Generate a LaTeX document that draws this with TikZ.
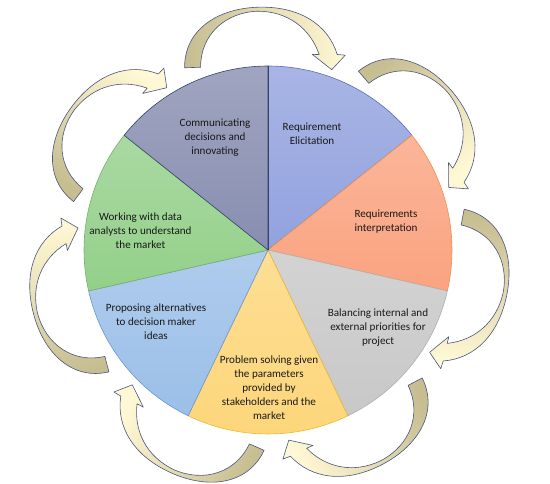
\documentclass[tikz,border=0pt]{standalone}
\usepackage{fontspec}
\setmainfont{Carlito}
\definecolor{cBlue}{RGB}{146,162,222}
\definecolor{cOrange}{RGB}{250,163,128}
\definecolor{cGray}{RGB}{200,200,200}
\definecolor{cYellow}{RGB}{253,214,122}
\definecolor{cLBlue}{RGB}{155,191,232}
\definecolor{cGreen}{RGB}{148,208,138}
\definecolor{cSlate}{RGB}{136,142,176}
\definecolor{bBlue}{RGB}{90,110,185}
\definecolor{bOrange}{RGB}{240,145,70}
\definecolor{bGray}{RGB}{175,175,175}
\definecolor{bYellow}{RGB}{235,185,45}
\definecolor{bLBlue}{RGB}{105,150,210}
\definecolor{bGreen}{RGB}{115,178,105}
\definecolor{bSlate}{RGB}{55,65,110}
\definecolor{arTan}{RGB}{198,189,145}
\definecolor{arCream}{RGB}{255,248,212}
\definecolor{arLine}{RGB}{75,85,125}
\definecolor{txt}{RGB}{25,25,25}
\tikzset{
  lbl/.style={align=center, text=txt, font=\fontsize{11.1}{14}\selectfont, inner sep=0pt},
  slicestyle/.style={line width=0.6pt, line join=round},
  arrowstyle/.style={draw=arLine, line width=0.6pt, line join=round}
}
\begin{document}
\begin{tikzpicture}[x=1pt,y=1pt]
\useasboundingbox (0,0) rectangle (550,483);
\coordinate (C) at (268,233);
% pie slices
\foreach \s/\c/\b in {0/cBlue/bBlue,1/cOrange/bOrange,2/cGray/bGray,3/cYellow/bYellow,4/cLBlue/bLBlue,5/cGreen/bGreen,6/cSlate/bSlate}{
  \pgfmathsetmacro\aa{90-51.428571*\s}
  \pgfmathsetmacro\ee{\aa-51.428571}
  \shadedraw[slicestyle, top color=\c!80!white, bottom color=\c, draw=\b]
    (C) -- ++(\aa:184) arc[start angle=\aa, end angle=\ee, radius=184] -- cycle;
}
\draw[bSlate, line width=0.7pt] (C) -- ++(90:184);
% curved arrows
\foreach \k in {0,...,6}{
  \pgfmathsetmacro\ph{92-51.428571*\k}
  \pgfmathsetmacro\rr{\ph-90}
  \begin{scope}[shift={(C)}, rotate=\rr, shift={(0,182)}]
    \shadedraw[arrowstyle, left color=arTan, middle color=arCream!70!arTan, right color=arCream, shading angle=\ph]
      (-77,3) .. controls (-76,41) and (-42,61) .. (-2,61)
      .. controls (40,61) and (68,41) .. (76,11)
      -- (84,10) -- (70,-4) -- (51,12) -- (58,11.5)
      .. controls (50,38) and (28,56) .. (-2,57)
      .. controls (-35,57) and (-60,35) .. (-61,3) -- cycle;
  \end{scope}
}
% labels
\node[lbl] (comm) at (215,345) {Communicating\\decisions and\\innovating};
\node[lbl] (elic) at (312,349) {Requirement\\Elicitation};
\node[lbl] (interp) at (386,261) {Requirements\\interpretation};
\node[lbl] (bal) at (378,155) {Balancing internal and\\external priorities for\\project};
\node[lbl] (prob) at (269,95) {Problem solving given\\the parameters\\provided by\\stakeholders and the\\market};
\node[lbl] (prop) at (156,161) {Proposing alternatives\\to decision maker\\ideas};
\node[lbl] (work) at (140.5,252) {Working with data\\analysts to understand\\the market};
\end{tikzpicture}
\end{document}
